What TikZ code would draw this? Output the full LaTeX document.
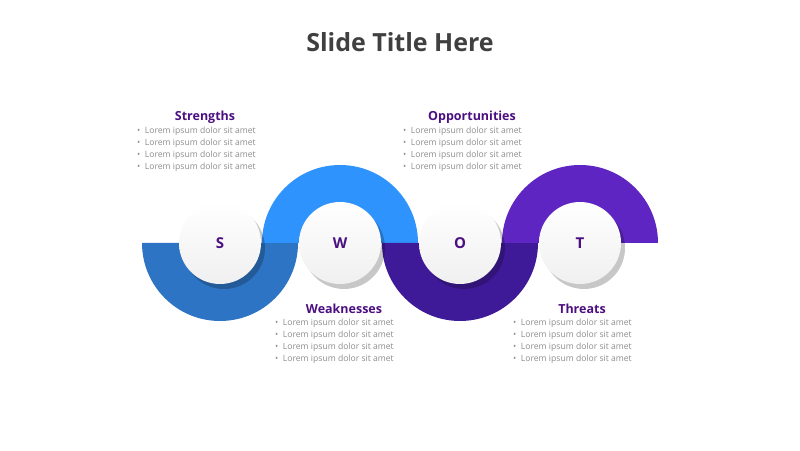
\documentclass[tikz,border=0pt]{standalone}
\usepackage{fontspec}
\setmainfont{Open Sans}
\usetikzlibrary{positioning}
\definecolor{sblue}{HTML}{2E74C4}
\definecolor{wblue}{HTML}{2E93FD}
\definecolor{odark}{HTML}{3F1A98}
\definecolor{tpurp}{HTML}{5E25C2}
\definecolor{headc}{HTML}{4B0F82}
\definecolor{textc}{HTML}{8C8C8C}
\tikzset{
    letter/.style={circle, minimum size=82pt, inner sep=0pt,
        top color=white, bottom color=gray!12,
        font=\fontsize{15}{15}\selectfont\bfseries, text=headc},
    shade/.style={circle, minimum size=82pt, fill=black, opacity=.22},
    heading/.style={font=\fontsize{12.5}{14}\selectfont\bfseries, text=headc},
    bullets/.style={font=\fontsize{8.6}{12}\selectfont, text=textc,
        align=left, anchor=north west, inner sep=0pt}
}
\newcommand{\lorem}{\textbullet\ \ Lorem ipsum dolor sit amet\\
    \textbullet\ \ Lorem ipsum dolor sit amet\\
    \textbullet\ \ Lorem ipsum dolor sit amet\\
    \textbullet\ \ Lorem ipsum dolor sit amet}
\begin{document}
\begin{tikzpicture}[x=1pt,y=1pt]
    \useasboundingbox (0,0) rectangle (800,450);
    \coordinate (cS) at (220,207);
    \coordinate (cW) at (340,207);
    \coordinate (cO) at (460,207);
    \coordinate (cT) at (580,207);

    % title
    \node[font=\fontsize{25}{28}\selectfont\bfseries, text=black!75]
        (title) at (400,408) {Slide Title Here};

    % bands
    \fill[sblue, shift={(cS)}] (180:78) arc[start angle=180,
        end angle=360, radius=78] -- (0:40) arc[start angle=360,
        end angle=180, radius=40] -- cycle;
    \fill[wblue, shift={(cW)}] (180:78) arc[start angle=180,
        end angle=0, radius=78] -- (0:40) arc[start angle=0,
        end angle=180, radius=40] -- cycle;
    \fill[odark, shift={(cO)}] (180:78) arc[start angle=180,
        end angle=360, radius=78] -- (0:40) arc[start angle=360,
        end angle=180, radius=40] -- cycle;
    \fill[tpurp, shift={(cT)}] (180:78) arc[start angle=180,
        end angle=0, radius=78] -- (0:40) arc[start angle=0,
        end angle=180, radius=40] -- cycle;

    % circles
    \foreach \c in {cS,cW,cO,cT}
        \node[shade] at ([shift={(4,-5)}]\c) {};
    \node[letter] (S) at (cS) {S};
    \node[letter] (W) at (cW) {W};
    \node[letter] (O) at (cO) {O};
    \node[letter] (T) at (cT) {T};

    % texts
    \node[heading] (strh) at (205,333) {Strengths};
    \node[bullets] (strb) at (137,323) {\lorem};
    \node[heading] (opph) at (472,333) {Opportunities};
    \node[bullets] (oppb) at (403,323) {\lorem};
    \node[heading] (weah) at (344,141) {Weaknesses};
    \node[bullets] (weab) at (275,131) {\lorem};
    \node[heading] (thrh) at (582,141) {Threats};
    \node[bullets] (thrb) at (513,131) {\lorem};
\end{tikzpicture}
\end{document}
